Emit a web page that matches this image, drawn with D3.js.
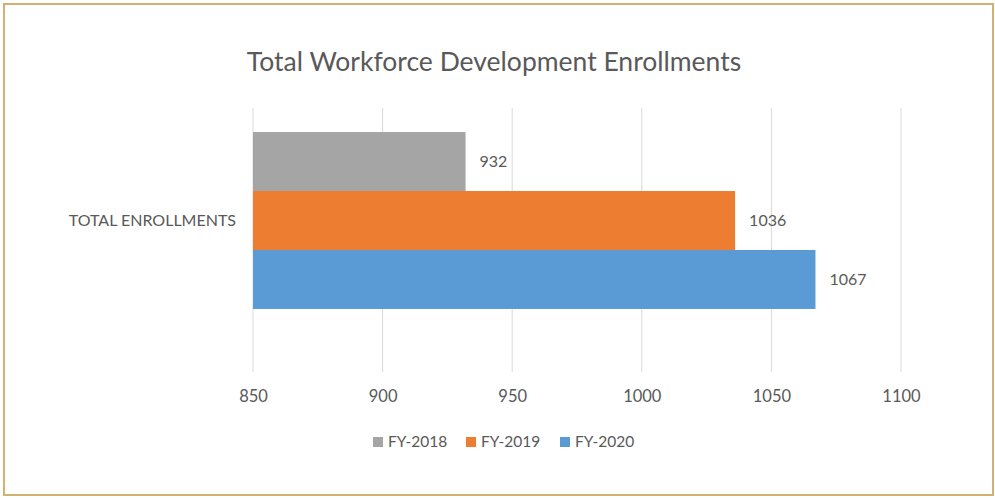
<!DOCTYPE html>
<html>
<head>
<meta charset="utf-8">
<script src="https://cdn.jsdelivr.net/npm/d3@7"></script>
<style>
  body { margin: 0; background: #fff; }
  text { font-family: Lato, "Open Sans", sans-serif; fill: #595959; }
</style>
</head>
<body>
<div id="chart"></div>
<script>
// chart data
const category = "TOTAL ENROLLMENTS";
const seriesNames = ["FY-2018", "FY-2019", "FY-2020"];
const seriesValues = [932, 1036, 1067];
const seriesColors = ["#A5A5A5", "#ED7D31", "#5B9BD5"];
const xTicks = [850, 900, 950, 1000, 1050, 1100];

const width = 995, height = 498;

const svg = d3.select("#chart").append("svg")
    .attr("width", width)
    .attr("height", height);

// gold frame
svg.append("rect")
    .attr("x", 4).attr("y", 4)
    .attr("width", 989).attr("height", 491)
    .attr("fill", "#fff")
    .attr("stroke", "#D2B26C")
    .attr("stroke-width", 2);

svg.append("text")
    .attr("x", 494)
    .attr("y", 71)
    .attr("text-anchor", "middle")
    .style("font-size", "26.5px")
    .text("Total Workforce Development Enrollments");

const plot = { left: 253, right: 901, top: 108, bottom: 372 };

const x = d3.scaleLinear()
    .domain([850, 1100])
    .range([plot.left, plot.right]);

// bar group sits high in the plot area, like the original
const yCat = d3.scaleBand()
    .domain([category])
    .range([plot.top, plot.bottom])
    .paddingInner(0)
    .paddingOuter(0.246)
    .align(0.276);

const ySeries = d3.scaleBand()
    .domain(seriesNames)
    .range([0, yCat.bandwidth()]);

// gridlines
svg.append("g")
    .selectAll("line")
    .data(xTicks)
    .join("line")
    .attr("x1", d => x(d)).attr("x2", d => x(d))
    .attr("y1", plot.top).attr("y2", plot.bottom)
    .attr("stroke", "#D9D9D9")
    .attr("stroke-width", 1);

// x axis labels
const xAxis = svg.append("g")
    .attr("transform", `translate(0,${plot.bottom})`)
    .call(d3.axisBottom(x).tickValues(xTicks).tickSize(0).tickPadding(18).tickFormat(d3.format("d")));
xAxis.select(".domain").remove();
xAxis.selectAll("text")
    .style("font-size", "16.5px")
    .style("font-family", "Lato, 'Open Sans', sans-serif")
    .attr("fill", "#595959");

// category label
svg.append("text")
    .attr("x", 236)
    .attr("y", yCat(category) + yCat.bandwidth() / 2)
    .attr("dy", "0.35em")
    .attr("text-anchor", "end")
    .style("font-size", "16px")
    .text(category);

// bars
const bars = seriesNames.map((name, i) => ({ name, value: seriesValues[i], color: seriesColors[i] }));

svg.append("g")
    .selectAll("rect")
    .data(bars)
    .join("rect")
    .attr("x", x(850))
    .attr("y", d => yCat(category) + ySeries(d.name))
    .attr("width", d => x(d.value) - x(850))
    .attr("height", ySeries.bandwidth())
    .attr("fill", d => d.color);

// value labels
svg.append("g")
    .selectAll("text")
    .data(bars)
    .join("text")
    .attr("x", d => x(d.value) + 14)
    .attr("y", d => yCat(category) + ySeries(d.name) + ySeries.bandwidth() / 2)
    .attr("dy", "0.35em")
    .style("font-size", "16px")
    .attr("fill", "#404040")
    .text(d => d.value);

// legend
const legendX = [373, 466, 560];
const legend = svg.append("g")
    .selectAll("g")
    .data(bars)
    .join("g")
    .attr("transform", (d, i) => `translate(${legendX[i]},442)`);

legend.append("rect")
    .attr("x", 0).attr("y", -5)
    .attr("width", 10).attr("height", 10)
    .attr("fill", d => d.color);

legend.append("text")
    .attr("x", 15)
    .attr("dy", "0.35em")
    .style("font-size", "15.5px")
    .text(d => d.name);
</script>
</body>
</html>
